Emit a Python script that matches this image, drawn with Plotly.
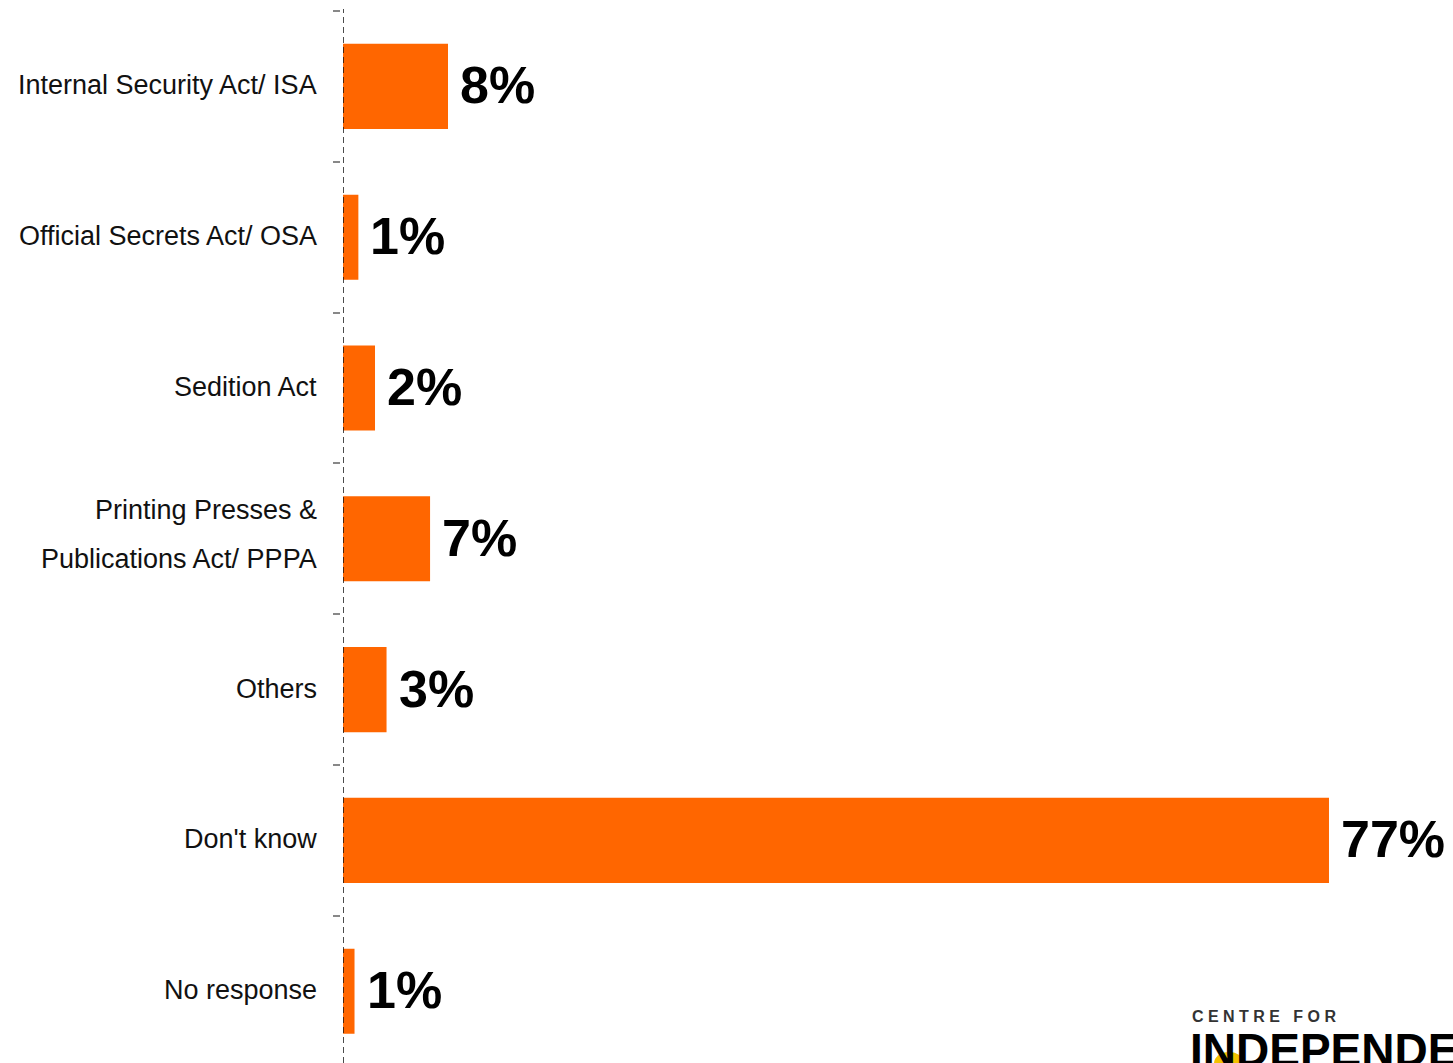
import plotly.graph_objects as go

categories = ["Internal Security Act/ ISA", "Official Secrets Act/ OSA", "Sedition Act",
              "Printing Presses &<br>Publications Act/ PPPA", "Others", "Don't know", "No response"]
label_lines = [["Internal Security Act/ ISA"], ["Official Secrets Act/ OSA"], ["Sedition Act"],
               ["Printing Presses &", "Publications Act/ PPPA"], ["Others"], ["Don't know"], ["No response"]]
values = [8.2, 1.2, 2.5, 6.8, 3.4, 77.0, 0.9]
value_labels = ["8%", "1%", "2%", "7%", "3%", "77%", "1%"]

ORANGE = "#FF6600"
LABEL_FONT = "Liberation Sans Narrow, Arial Narrow, Liberation Sans, Arial, sans-serif"
VALUE_FONT = "Liberation Sans, Arial, Helvetica, sans-serif"

W, H = 1453, 1063
ML, MT = 300, 11
plot_w = W - ML
plot_h = H - MT
x0_px = 343
dom0 = (x0_px - ML) / plot_w
px_per_unit = 12.805
xmax = (W - x0_px) / px_per_unit
cat_px = 150.8
span = plot_h / cat_px


def px_x(px):
    return (px - ML) / plot_w


def px_y(py):
    return (H - py) / plot_h


fig = go.Figure()
fig.add_trace(go.Bar(
    x=values, y=categories, orientation="h",
    marker=dict(color=ORANGE, line=dict(width=0)),
    hoverinfo="skip", showlegend=False,
))

annotations = []
for cat, lines in zip(categories, label_lines):
    shifts = [0] if len(lines) == 1 else [28, -21]
    for line, ys in zip(lines, shifts):
        annotations.append(dict(
            x=0, y=cat, xref="x", yref="y", text=line, showarrow=False,
            xanchor="right", yanchor="middle", xshift=-24, yshift=ys + 1,
            font=dict(family=LABEL_FONT, size=27, color="#111111"),
        ))
for cat, v, t in zip(categories, values, value_labels):
    annotations.append(dict(
        x=v, y=cat, xref="x", yref="y", text="<b>" + t + "</b>", showarrow=False,
        xanchor="left", yanchor="middle", xshift=10, yshift=1,
        font=dict(family=VALUE_FONT, size=52, color="#000000"),
    ))

# logo text (bottom right, partially cut off as in the source)
annotations.append(dict(
    x=px_x(1190), y=px_y(1006), xref="paper", yref="paper",
    text="<b>C E N T R E  &nbsp;F O R</b>", showarrow=False, xanchor="left", yanchor="top",
    font=dict(family=VALUE_FONT, size=16, color="#333333"),
))
annotations.append(dict(
    x=px_x(1188), y=px_y(1022), xref="paper", yref="paper",
    text="<b>INDEPENDENCE</b>", showarrow=False, xanchor="left", yanchor="top",
    font=dict(family=VALUE_FONT, size=46, color="#000000"),
))

shapes = [
    dict(type="line", xref="x", yref="paper", x0=0, x1=0, y0=0, y1=1.002,
         line=dict(color="#111111", width=1.5, dash="6px,4px"), layer="above"),
    dict(type="circle", xref="paper", yref="paper",
         x0=px_x(1214), x1=px_x(1244), y0=px_y(1075), y1=px_y(1052),
         fillcolor="#F2C200", line=dict(width=0), layer="above"),
]

fig.update_layout(
    width=W, height=H,
    margin=dict(l=ML, r=0, t=MT, b=0, pad=0),
    paper_bgcolor="white", plot_bgcolor="white",
    bargap=0.436,
    xaxis=dict(domain=[dom0, 1], range=[0, xmax], visible=False, fixedrange=True),
    yaxis=dict(
        type="category", range=[span - 0.5, -0.5], anchor="free", position=px_x(340),
        showticklabels=False, showgrid=False, zeroline=False, showline=False,
        ticks="outside", tickson="boundaries", ticklen=7, tickwidth=1.5, tickcolor="#888888",
        fixedrange=True,
    ),
    annotations=annotations,
    shapes=shapes,
)

fig.write_html("out.html", config={"displayModeBar": False},
               post_script="document.body.style.margin='0';document.body.style.overflow='hidden';")
